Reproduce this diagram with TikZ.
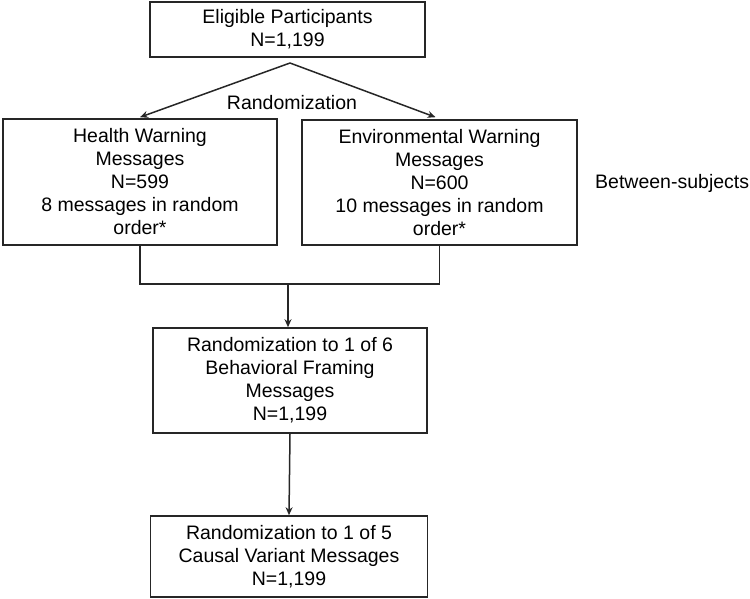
\documentclass[tikz,border=0pt]{standalone}
\usepackage{fontspec}
\setmainfont{Liberation Sans}
\usetikzlibrary{arrows.meta}
\tikzset{
	flowbox/.style={draw=black!85, line width=1.6pt, align=center, inner sep=0pt, font=\fontsize{19.5}{23}\selectfont},
	flowline/.style={draw=black!85, line width=1.5pt},
	flowarrow/.style={flowline, -{Stealth[length=8pt,width=7pt]}},
	flowtext/.style={inner sep=0pt, font=\fontsize{19.5}{23}\selectfont}
}

\begin{document}
\begin{tikzpicture}[x=1pt, y=-1pt]
		%%%%% START %%%%%
		\useasboundingbox (0, 0) rectangle (750, 598);
		
		\node[flowbox, minimum width=275pt, minimum height=55pt] (elig) at (287.5, 29.5) {Eligible Participants\\N=1,199};
		
		\node[flowbox, minimum width=274pt, minimum height=126pt] (health) at (140, 182) {Health Warning\\Messages\\N=599\\8 messages in random\\order*};
		\node[flowbox, minimum width=275pt, minimum height=125pt] (env) at (439.5, 182.5) {Environmental Warning\\Messages\\N=600\\10 messages in random\\order*};
		
		\node[flowtext] (rand) at (292, 103) {Randomization};
		\node[flowtext, anchor=west] (between) at (595, 183) {Between-subjects};
		
		\node[flowbox, minimum width=274pt, minimum height=105pt] (behav) at (290, 380.5) {Randomization to 1 of 6\\Behavioral Framing\\Messages\\N=1,199};
		\node[flowbox, minimum width=277pt, minimum height=81pt] (causal) at (289, 556.5) {Randomization to 1 of 5\\Causal Variant Messages\\N=1,199};
		
		\coordinate (apex) at (290, 63);
		\coordinate (merge) at (288, 284);
		
		\draw[flowarrow] (apex) -- ([yshift=1pt]health.north);
		\draw[flowarrow] (apex) -- ([xshift=-4pt, yshift=2pt]env.north);
		
		\draw[flowline] (health.south) -- (health.south |- merge) -- (env.south |- merge) -- (env.south);
		\draw[flowarrow] (merge) -- (merge |- behav.north);
		\draw[flowarrow] (behav.south) -- (causal.north);
		
		%%%%% END %%%%%
	\end{tikzpicture}
\end{document}
